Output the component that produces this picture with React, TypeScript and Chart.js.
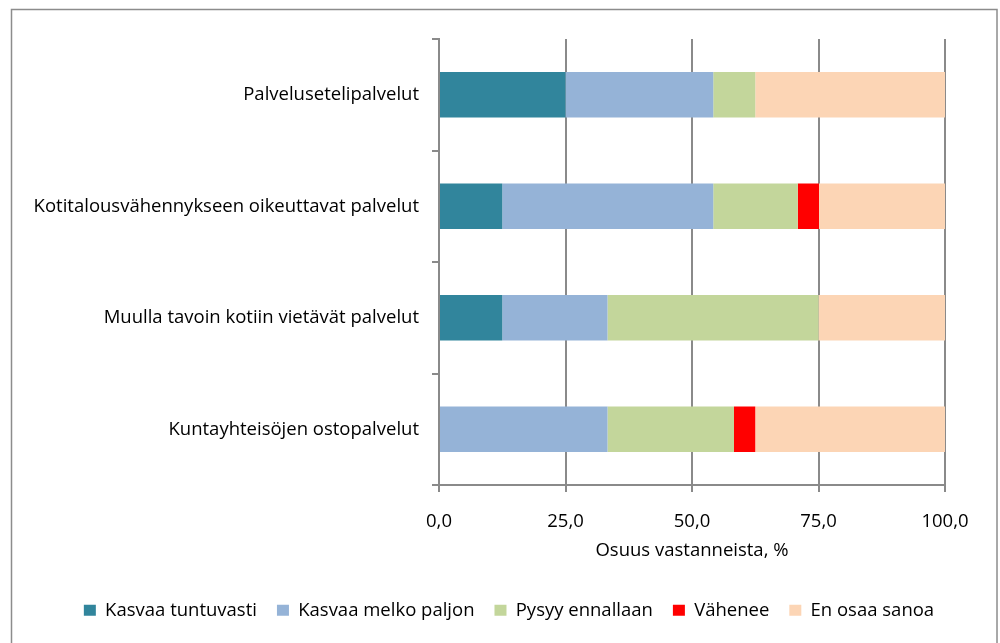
import React, { useEffect, useRef } from "react";
import { Chart, registerables } from "chart.js";

Chart.register(...registerables);

const categories = [
  "Palvelusetelipalvelut",
  "Kotitalousvähennykseen oikeuttavat palvelut",
  "Muulla tavoin kotiin vietävät palvelut",
  "Kuntayhteisöjen ostopalvelut",
];
const kasvaaTuntuvasti = [25.0, 12.5, 12.5, 0];
const kasvaaMelkoPaljon = [29.2, 41.7, 20.8, 33.3];
const pysyyEnnallaan = [8.3, 16.7, 41.7, 25.0];
const vahenee = [0, 4.2, 0, 4.2];
const enOsaaSanoa = [37.5, 25.0, 25.0, 37.5];
const xTicks = [0, 25, 50, 75, 100];

const FONT = "'Open Sans', sans-serif";
const FS = 18.5;
const GRID = "#8a8a8a";

const borderPlugin = {
  id: "outerBorder",
  beforeDraw(chart: any) {
    const ctx = chart.ctx;
    ctx.save();
    ctx.fillStyle = "#ffffff";
    ctx.fillRect(0, 0, chart.width, chart.height);
    ctx.strokeStyle = "#8c8c8c";
    ctx.lineWidth = 1.5;
    ctx.strokeRect(11.5, 9.5, 985.5, 700);
    ctx.restore();
  },
};

export default function App() {
  const ref = useRef<HTMLCanvasElement | null>(null);
  useEffect(() => {
    if (!ref.current) return;
    const chart = new Chart(ref.current, {
      type: "bar",
      data: {
        labels: categories,
        datasets: [
          { label: "Kasvaa tuntuvasti", data: kasvaaTuntuvasti, backgroundColor: "#31859C" },
          { label: "Kasvaa melko paljon", data: kasvaaMelkoPaljon, backgroundColor: "#95B3D7" },
          { label: "Pysyy ennallaan", data: pysyyEnnallaan, backgroundColor: "#C3D69B" },
          { label: "Vähenee", data: vahenee, backgroundColor: "#FF0000" },
          { label: "En osaa sanoa", data: enOsaaSanoa, backgroundColor: "#FCD5B5" },
        ],
      },
      options: {
        indexAxis: "y",
        animation: false,
        responsive: false,
        maintainAspectRatio: false,
        layout: { padding: { left: 18, right: 0, top: 39, bottom: 13.5 } },
        datasets: { bar: { barPercentage: 0.41, categoryPercentage: 1, borderWidth: 0 } },
        plugins: {
          legend: {
            position: "bottom",
            labels: {
              boxWidth: 12,
              boxHeight: 11,
              padding: 20,
              color: "#000",
              font: { family: FONT, size: FS },
            },
          },
          tooltip: { enabled: false },
        },
        scales: {
          x: {
            stacked: true,
            min: 0,
            max: 100,
            afterBuildTicks(scale: any) {
              scale.ticks = xTicks.map((v) => ({ value: v }));
            },
            afterFit(scale: any) {
              scale.height = 96;
            },
            ticks: {
              padding: 19,
              color: "#000",
              font: { family: FONT, size: FS },
              callback: (v: any) => Number(v).toFixed(1).replace(".", ","),
              maxRotation: 0,
            },
            grid: { color: GRID, lineWidth: 2, tickLength: 7, drawTicks: true },
            border: { color: GRID, width: 2 },
            title: {
              display: true,
              text: "Osuus vastanneista, %",
              color: "#000",
              font: { family: FONT, size: FS },
              padding: { top: 4, bottom: 19 },
            },
          },
          y: {
            stacked: true,
            afterFit(scale: any) {
              scale.width = 421;
            },
            ticks: {
              padding: 13,
              color: "#000",
              font: { family: FONT, size: FS },
            },
            grid: {
              offset: true,
              drawOnChartArea: false,
              color: GRID,
              lineWidth: 2,
              tickLength: 7,
            },
            border: { color: GRID, width: 2 },
          },
          yRight: {
            type: "category",
            position: "right",
            labels: categories,
            afterFit(scale: any) {
              scale.width = 55;
            },
            ticks: { display: false },
            grid: { display: false, drawTicks: false },
            border: { display: false },
          },
        },
      } as any,
      plugins: [borderPlugin],
    });
    return () => chart.destroy();
  }, []);
  return (
    <div style={{ position: "absolute", left: 0, top: 0, width: 1000, height: 643 }}>
      <canvas ref={ref} width={1000} height={643} style={{ width: 1000, height: 643, display: "block" }} />
    </div>
  );
}
